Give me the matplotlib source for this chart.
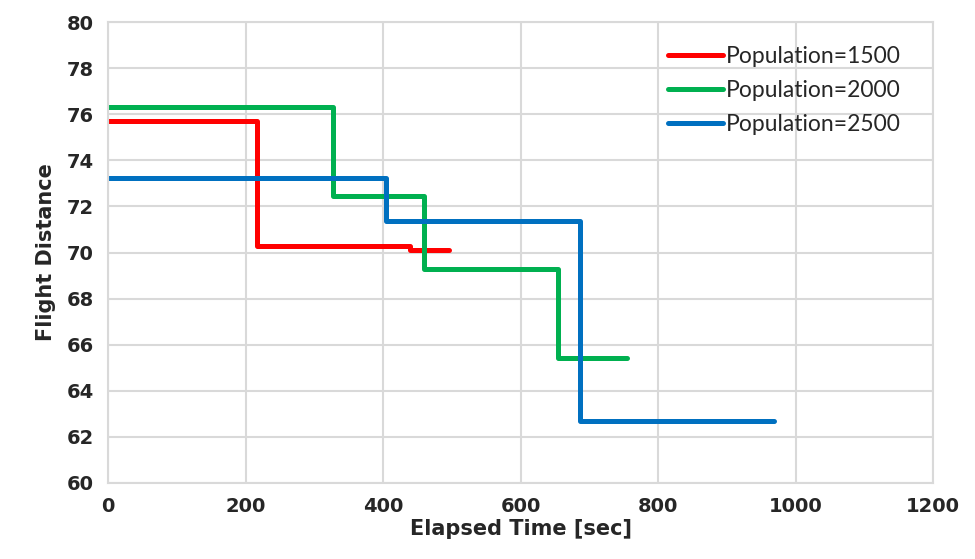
import matplotlib
matplotlib.use("Agg")
import matplotlib.pyplot as plt

# step series (time in sec, flight distance)
t_1500 = [0, 217, 439, 496]
d_1500 = [75.7, 70.28, 70.1, 70.1]

t_2000 = [0, 327, 460, 655, 755]
d_2000 = [76.33, 72.45, 69.28, 65.42, 65.42]

t_2500 = [0, 404, 687, 969]
d_2500 = [73.25, 71.38, 62.69, 62.69]

x_ticks = [0, 200, 400, 600, 800, 1000, 1200]
y_ticks = [60, 62, 64, 66, 68, 70, 72, 74, 76, 78, 80]

fig = plt.figure(figsize=(9.75, 5.59), dpi=100)
ax = fig.add_axes([108 / 975, 76 / 559, 825 / 975, 461 / 559])

ax.step(t_1500, d_1500, where="post", color="#ff0000", lw=3.6,
        solid_joinstyle="round", solid_capstyle="round", label="Population=1500")
ax.step(t_2000, d_2000, where="post", color="#00b050", lw=3.6,
        solid_joinstyle="round", solid_capstyle="round", label="Population=2000")
ax.step(t_2500, d_2500, where="post", color="#0070c0", lw=3.6,
        solid_joinstyle="round", solid_capstyle="round", label="Population=2500")

ax.set_xlim(0, 1200)
ax.set_ylim(60, 80)
ax.set_xticks(x_ticks)
ax.set_yticks(y_ticks)
ax.grid(True, color="#d9d9d9", lw=1.5)
ax.set_axisbelow(True)
for s in ax.spines.values():
    s.set_color("#d9d9d9")
    s.set_linewidth(1.5)
ax.tick_params(length=0, pad=10, labelsize=14)
tick_font = ["DejaVu Sans"]
for lab in ax.get_xticklabels() + ax.get_yticklabels():
    lab.set_fontfamily(tick_font)
    lab.set_fontweight("bold")
    lab.set_color("#262626")

ax.set_xlabel("Elapsed Time [sec]", fontsize=15, fontweight="bold",
              family=tick_font, labelpad=2, color="#262626")
ax.set_ylabel("Flight Distance", fontsize=15, fontweight="bold",
              family=tick_font, labelpad=8, color="#262626")

leg = ax.legend(loc="upper left", bbox_to_anchor=(0.668, 0.968), frameon=False,
                borderaxespad=0, handlelength=2.4, handletextpad=0.1,
                labelspacing=0.56,
                prop={"family": ["Lato", "DejaVu Sans"], "size": 16.5})
for txt in leg.get_texts():
    txt.set_color("#262626")

fig.savefig("out.png", dpi=100)
